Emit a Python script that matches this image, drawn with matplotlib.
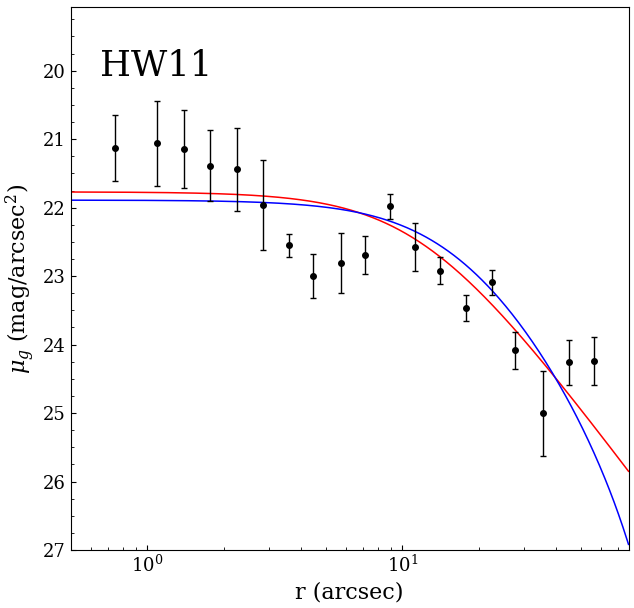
import numpy as np
import matplotlib
matplotlib.use("Agg")
import matplotlib.pyplot as plt
from matplotlib.ticker import MultipleLocator

# Data
r_arcsec = [0.75, 1.094, 1.393, 1.757, 2.254, 2.85, 3.595, 4.48, 5.73, 7.14,
            8.95, 11.2, 14.05, 17.8, 22.5, 27.7, 35.6, 45.1, 56.5]
mu_g = [21.13, 21.06, 21.14, 21.39, 21.44, 21.96, 22.55, 23.00, 22.81, 22.69,
        21.98, 22.57, 22.92, 23.47, 23.09, 24.08, 25.00, 24.26, 24.24]
mu_err = [0.48, 0.62, 0.57, 0.52, 0.61, 0.66, 0.17, 0.32, 0.44, 0.28,
          0.18, 0.35, 0.20, 0.19, 0.18, 0.27, 0.62, 0.33, 0.35]

# Model parameters (fitted profiles)
king_mu0, king_rc, king_rt = 21.89, 17.0, 130.0      # blue
eff_mu0, eff_a, eff_gamma = 21.77, 11.9, 2.0         # red

label = "HW11"
xlim = (0.5, 77.0)
ylim = (27.0, 19.07)

plt.rcParams['font.family'] = ['DejaVu Serif']
plt.rcParams['mathtext.fontset'] = 'dejavuserif'

fig = plt.figure(figsize=(6.34, 6.08), dpi=100)
ax = fig.add_axes([70.5/634, 58/608, (628.5-70.5)/634, (550-7)/608])

rr = np.logspace(np.log10(xlim[0]), np.log10(xlim[1]), 500)
c = 1.0/np.sqrt(1+(king_rt/king_rc)**2)
king = king_mu0 - 5*np.log10((1/np.sqrt(1+(rr/king_rc)**2) - c)/(1-c))
eff = eff_mu0 + 1.25*eff_gamma*np.log10(1+(rr/eff_a)**2)

ax.plot(rr, eff, color='red', lw=1.1)
ax.plot(rr, king, color='blue', lw=1.1)
ax.errorbar(r_arcsec, mu_g, yerr=mu_err, fmt='o', color='black', ms=4,
            elinewidth=1, capsize=2.5, capthick=1)

ax.set_xscale('log')
ax.set_xlim(*xlim)
ax.set_ylim(*ylim)
ax.yaxis.set_major_locator(MultipleLocator(1))
ax.yaxis.set_minor_locator(MultipleLocator(0.25))
ax.tick_params(which='both', direction='in', labelsize=13)
ax.set_xlabel('r (arcsec)', fontsize=16)
ax.set_ylabel(r'$\mu_g$ (mag/arcsec$^2$)', fontsize=16)
ax.text(0.052, 0.873, label, transform=ax.transAxes, fontsize=25.5, va='baseline')

fig.savefig('out.png', dpi=100)
